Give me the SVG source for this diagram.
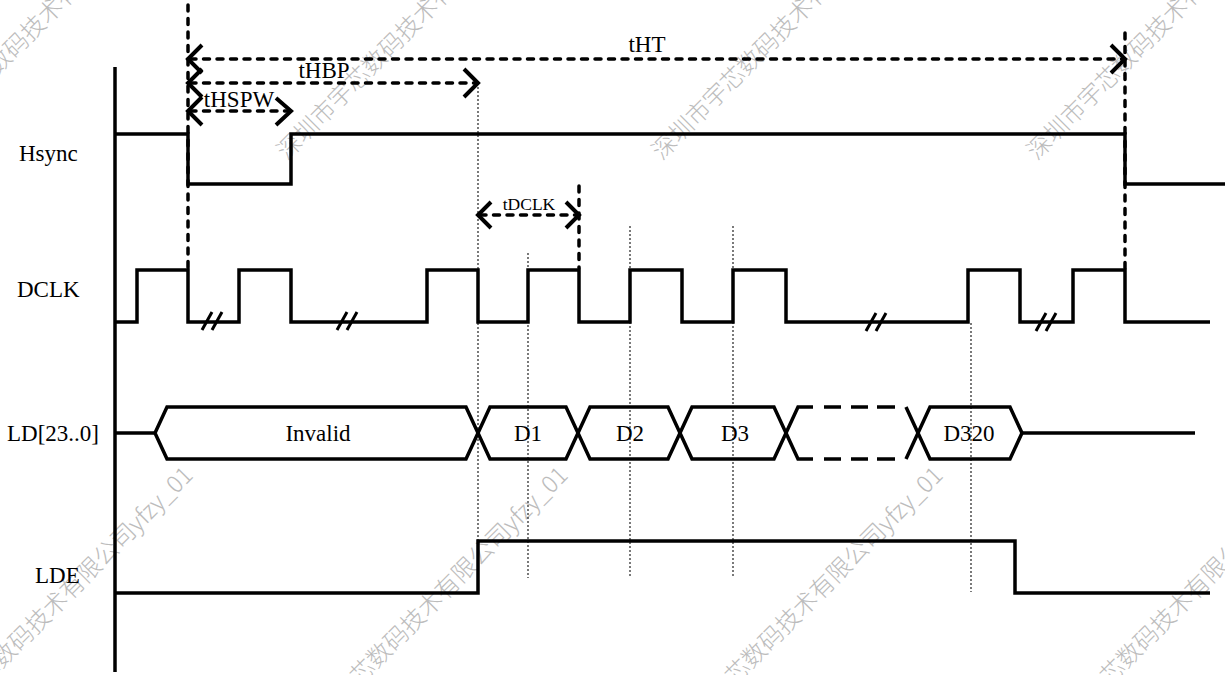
<svg xmlns="http://www.w3.org/2000/svg" width="1225" height="675" viewBox="0 0 1225 675">
<style>
.wm{font-family:"Noto Sans CJK SC","Noto Sans",sans-serif;font-size:24px;font-weight:300;fill:#bcbcbc}
.lbl{font-family:"Liberation Serif","Times New Roman",serif;font-size:23px;fill:#000}
.mid{text-anchor:middle}
.sig{fill:none;stroke:#000;stroke-width:3.5;stroke-linejoin:miter;stroke-linecap:butt}
.dash{fill:none;stroke:#000;stroke-width:3.5;stroke-dasharray:6 7.5;stroke-linecap:round}
.dot{fill:none;stroke:#333;stroke-width:1.3;stroke-dasharray:2 2}
.chev{fill:none;stroke:#000;stroke-width:4}
.brk{fill:none;stroke:#000;stroke-width:3}
</style>
<rect width="1225" height="675" fill="#fff"/>
<g id="watermark">
<text class="wm" x="-88" y="161" transform="rotate(-45 -88 161)">深圳市宇芯数码技术有限公司yfzy_01</text>
<text class="wm" x="287" y="161" transform="rotate(-45 287 161)">深圳市宇芯数码技术有限公司yfzy_01</text>
<text class="wm" x="662" y="161" transform="rotate(-45 662 161)">深圳市宇芯数码技术有限公司yfzy_01</text>
<text class="wm" x="1037" y="161" transform="rotate(-45 1037 161)">深圳市宇芯数码技术有限公司yfzy_01</text>
<text class="wm" x="-83" y="754" transform="rotate(-45 -83 754)">深圳市宇芯数码技术有限公司yfzy_01</text>
<text class="wm" x="292" y="754" transform="rotate(-45 292 754)">深圳市宇芯数码技术有限公司yfzy_01</text>
<text class="wm" x="667" y="754" transform="rotate(-45 667 754)">深圳市宇芯数码技术有限公司yfzy_01</text>
<text class="wm" x="1042" y="754" transform="rotate(-45 1042 754)">深圳市宇芯数码技术有限公司yfzy_01</text>
</g>
<g id="guides">
<path class="dot" d="M478 83 V541 M528 253 V578 M630 226 V578 M733 226 V578 M971 323 V592"/>
<path class="dash" d="M188 5 V268 M579 186 V268 M1125 33 V268"/>
</g>
<g id="axis"><path class="sig" d="M115 67 V672"/></g>
<g id="hsync">
<text class="lbl" x="19" y="161">Hsync</text>
<path class="sig" d="M115 134 H188 V184 H291 V134 H1125 V184 H1225"/>
</g>
<g id="dclk">
<text class="lbl" x="17" y="297">DCLK</text>
<path class="sig" d="M115 322 H137 V270 H188 V322 H239 V270 H291 V322 H427 V270 H478 V322 H528 V270 H579 V322 H630 V270 H682 V322 H733 V270 H786 V322 H968 V270 H1020 V322 H1073 V270 H1125 V322 H1210"/>
<path class="brk" d="M202 330 L212 312 M212 330 L222 312 M337 330 L347 312 M347 330 L357 312 M866 331 L876 313 M876 331 L886 313 M1036 331 L1046 313 M1046 331 L1056 313"/>
</g>
<g id="ld">
<text class="lbl" x="7" y="441">LD[23..0]</text>
<path class="sig" d="M115 433 H155"/>
<path class="sig" d="M155 433 L167 407 H466 L478 433 L466 459 H167 Z"/>
<path class="sig" d="M478 433 L490 407 H566 L578 433 L566 459 H490 Z"/>
<path class="sig" d="M578 433 L590 407 H668 L680 433 L668 459 H590 Z"/>
<path class="sig" d="M680 433 L692 407 H774 L786 433 L774 459 H692 Z"/>
<path class="sig" d="M786 433 L798 407 H813 M786 433 L798 459 H813 M824 407 H841 M851 407 H868 M877 407 H895 M824 459 H841 M851 459 H868 M877 459 H895"/>
<path class="sig" d="M918 433 L930 407 H1010 L1022 433 L1010 459 H930 Z M918 433 L906 407 M918 433 L906 459"/>
<path class="sig" d="M1022 433 H1195"/>
<text class="lbl mid" x="318" y="441">Invalid</text>
<text class="lbl mid" x="528" y="441">D1</text>
<text class="lbl mid" x="630" y="441">D2</text>
<text class="lbl mid" x="735" y="441">D3</text>
<text class="lbl mid" x="969" y="441">D320</text>
</g>
<g id="lde">
<text class="lbl" x="35" y="583">LDE</text>
<path class="sig" d="M115 593 H478 V541 H1015 V593 H1210"/>
</g>
<g id="connectors">
<g id="tHT">
<path class="dash" d="M190 59 H1123"/>
<path class="chev" d="M202 45 L188 59 L202 73 M1111 45 L1125 59 L1111 73"/>
<text class="lbl mid" x="647" y="52">tHT</text>
</g>
<g id="tHBP">
<path class="dash" d="M190 83 H476"/>
<path class="chev" d="M202 69 L188 83 L202 97 M464 69 L478 83 L464 97"/>
<text class="lbl mid" x="324" y="78">tHBP</text>
</g>
<g id="tHSPW">
<path class="dash" d="M190 111 H289"/>
<path class="chev" d="M202 97 L188 111 L202 125 M276 98 L291 111 L276 125"/>
<text class="lbl mid" x="239" y="107">tHSPW</text>
</g>
<g id="tDCLK">
<path class="dash" d="M480 215 H577"/>
<path class="chev" d="M491 202 L478 215 L491 228 M566 202 L579 215 L566 228"/>
<text class="lbl mid" x="529" y="210" style="font-size:17.5px">tDCLK</text>
</g>
</g>
</svg>
